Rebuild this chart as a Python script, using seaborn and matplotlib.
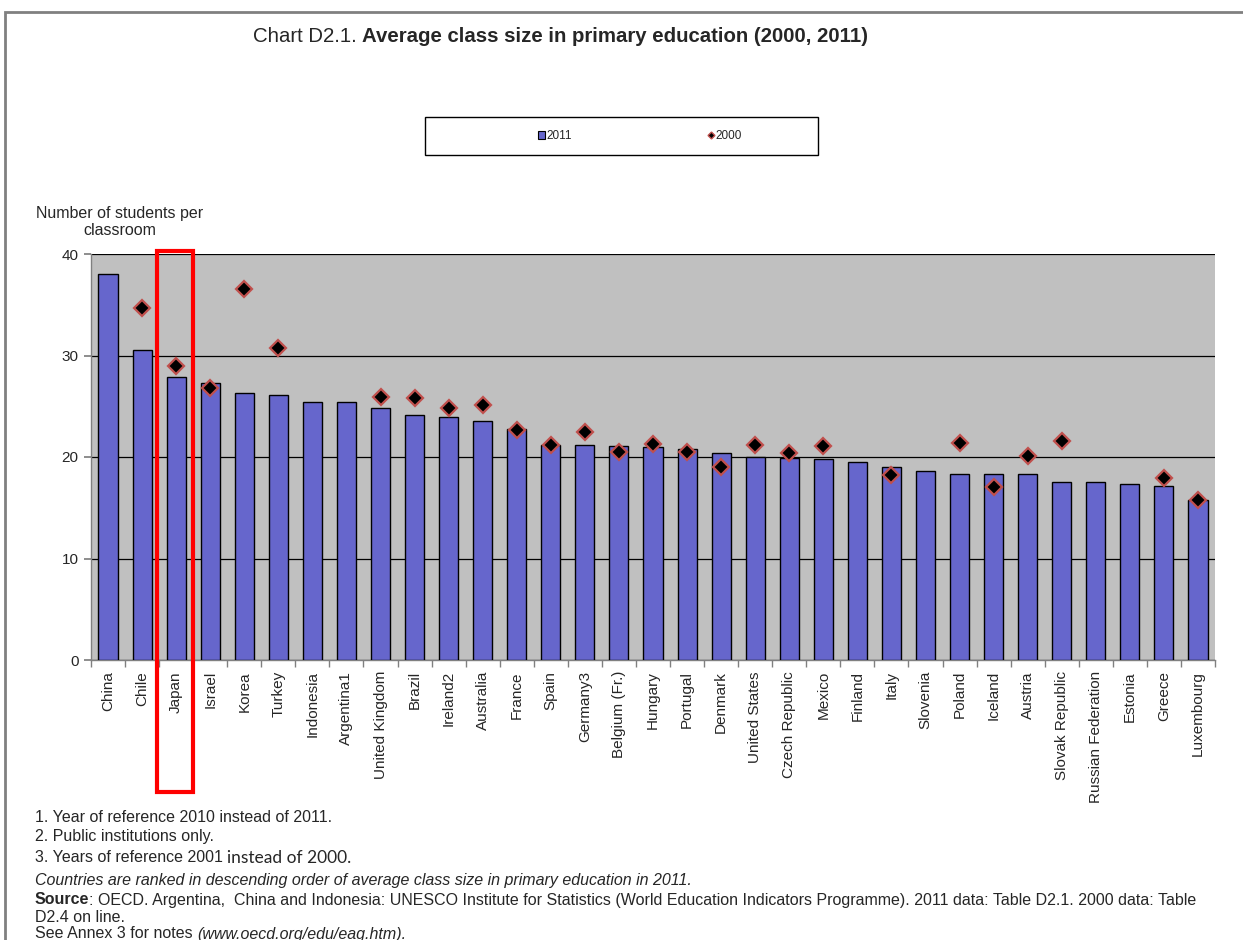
import matplotlib
matplotlib.use("Agg")
import matplotlib.pyplot as plt
import matplotlib.transforms as mtransforms
from matplotlib.patches import Rectangle, Patch
from matplotlib.lines import Line2D
import seaborn as sns
import pandas as pd
import numpy as np

# Data (students per classroom)
countries = ["China", "Chile", "Japan", "Israel", "Korea", "Turkey", "Indonesia",
             "Argentina1", "United Kingdom", "Brazil", "Ireland2", "Australia",
             "France", "Spain", "Germany3", "Belgium (Fr.)", "Hungary", "Portugal",
             "Denmark", "United States", "Czech Republic", "Mexico", "Finland",
             "Italy", "Slovenia", "Poland", "Iceland", "Austria", "Slovak Republic",
             "Russian Federation", "Estonia", "Greece", "Luxembourg"]
size_2011 = [38.0, 30.5, 27.9, 27.3, 26.3, 26.1, 25.4, 25.4, 24.8, 24.1, 23.9, 23.5,
             22.8, 21.2, 21.2, 21.1, 21.0, 20.8, 20.4, 20.0, 19.9, 19.8, 19.5, 19.0,
             18.6, 18.3, 18.3, 18.3, 17.5, 17.5, 17.3, 17.1, 15.8]
size_2000 = [np.nan, 34.7, 29.0, 26.8, 36.6, 30.7, np.nan, np.nan, 25.9, 25.8, 24.8,
             25.1, 22.7, 21.2, 22.5, 20.5, 21.3, 20.5, 19.0, 21.2, 20.4, 21.1, np.nan,
             18.2, np.nan, 21.4, 17.0, 20.1, 21.6, np.nan, np.nan, 17.9, 15.8]

df = pd.DataFrame({"country": countries, "2011": size_2011, "2000": size_2000})

BAR_COLOR = "#6666CC"
DIAMOND_EDGE = "#C0504D"

sns.set_theme(style="white")
plt.rcParams["font.family"] = ["Liberation Sans", "DejaVu Sans"]

W, H = 1243, 940
fig = plt.figure(figsize=(W / 100, H / 100), dpi=100)
ax = fig.add_axes([91 / W, 1 - 660 / H, 1124 / W, 406 / H])
ax.set_facecolor("#C0C0C0")

sns.barplot(data=df, x="country", y="2011", order=countries, color=BAR_COLOR,
            saturation=1, edgecolor="black", linewidth=1, width=0.56, ax=ax,
            zorder=3)
sns.pointplot(data=df, x="country", y="2000", order=countries, linestyle="none",
              marker="D", color="black", markersize=8, markeredgecolor=DIAMOND_EDGE,
              markeredgewidth=1.6, errorbar=None, ax=ax, zorder=4)

ax.set_xlim(-0.5, len(countries) - 0.5)
ax.set_ylim(0, 40)
ax.set_yticks([0, 10, 20, 30, 40])
ax.yaxis.grid(True, color="black", linewidth=0.9)
ax.set_axisbelow(True)
ax.set_xlabel("")
ax.set_ylabel("")
for side in ["top", "right"]:
    ax.spines[side].set_visible(False)
for side in ["left", "bottom"]:
    ax.spines[side].set_color("#808080")
    ax.spines[side].set_linewidth(1)

ax.set_xticks(np.arange(len(countries)))
ax.set_xticklabels(countries, rotation=90, fontsize=11)
ax.set_xticks(np.arange(-0.5, len(countries), 1), minor=True)
ax.tick_params(axis="x", which="major", length=0, pad=8)
ax.tick_params(axis="x", which="minor", bottom=True, length=5, color="#808080")
ax.tick_params(axis="y", left=True, length=5, color="#808080", labelsize=11, pad=4)

# Red highlight around Japan
trans = mtransforms.blended_transform_factory(ax.transData, fig.transFigure)
j = countries.index("Japan")
ax.add_patch(Rectangle((j - 0.56, 1 - 792 / H), 1.05, 541 / H, transform=trans,
                       fill=False, edgecolor="red", linewidth=3, clip_on=False,
                       zorder=6))

# Outer frame
fig.patches.append(Rectangle((5 / W, -0.1), 1.2, 1.1 - 12 / H,
                             transform=fig.transFigure, fill=False,
                             edgecolor="#808080", linewidth=2))

# Legend box
fig.patches.append(Rectangle((425 / W, 1 - 155 / H), 393 / W, 38 / H,
                             transform=fig.transFigure, fill=False,
                             edgecolor="black", linewidth=1))
handles = [Patch(facecolor=BAR_COLOR, edgecolor="black", linewidth=0.8),
           Line2D([], [], marker="D", linestyle="none", color="black",
                  markeredgecolor=DIAMOND_EDGE, markersize=3.5)]
fig.legend(handles, ["2011", "2000"], loc="center left", ncol=2, frameon=False,
           bbox_to_anchor=(532 / W, 1 - 136 / H), borderpad=0, fontsize=8.5,
           handlelength=0.6, handleheight=0.6, handletextpad=0.1, columnspacing=11.5)

# Axis title
fig.text(120 / W, 1 - 222 / H, "Number of students per\nclassroom", ha="center",
         va="center", fontsize=11.5, linespacing=1.15)


def text_runs(x_px, y_px, runs, size, **kw):
    """Draw pieces of text one after another on a single line."""
    r = fig.canvas.get_renderer()
    x = x_px
    for s, props in runs:
        t = fig.text(x / W, 1 - y_px / H, s, fontsize=props.pop("size", size),
                     va="center", **props, **kw)
        bb = t.get_window_extent(r)
        x = bb.x1 + 0.28 * size * 100 / 72


text_runs(253, 37, [("Chart D2.1.", {}),
                    ("Average class size in primary education (2000, 2011)",
                     {"weight": "bold"})], 14.7)

fs = 11.5
fig.text(35 / W, 1 - 817 / H, "1. Year of reference 2010 instead of 2011.", fontsize=fs, va="center")
fig.text(35 / W, 1 - 836 / H, "2. Public institutions only.", fontsize=fs, va="center")
text_runs(35, 858, [("3. Years of reference 2001", {}),
                    ("instead of 2000.", {"family": ["Lato", "DejaVu Sans"], "size": 12.5})], fs)
fig.text(35 / W, 1 - 880 / H,
         "Countries are ranked in descending order of average class size in primary education in 2011.",
         fontsize=fs, va="center", style="italic")
r = fig.canvas.get_renderer()
t = fig.text(35 / W, 1 - 900 / H, "Source", fontsize=fs, va="center", weight="bold")
x1 = t.get_window_extent(r).x1
fig.text(x1 / W, 1 - 900 / H,
         ": OECD. Argentina,  China and Indonesia: UNESCO Institute for Statistics (World Education Indicators Programme). 2011 data: Table D2.1. 2000 data: Table",
         fontsize=fs, va="center")
fig.text(35 / W, 1 - 918 / H, "D2.4 on line.", fontsize=fs, va="center")
text_runs(35, 934, [("See Annex 3 for notes", {}),
                    ("(www.oecd.org/edu/eag.htm).", {"style": "italic"})], fs)

fig.savefig("out.png", dpi=100)
